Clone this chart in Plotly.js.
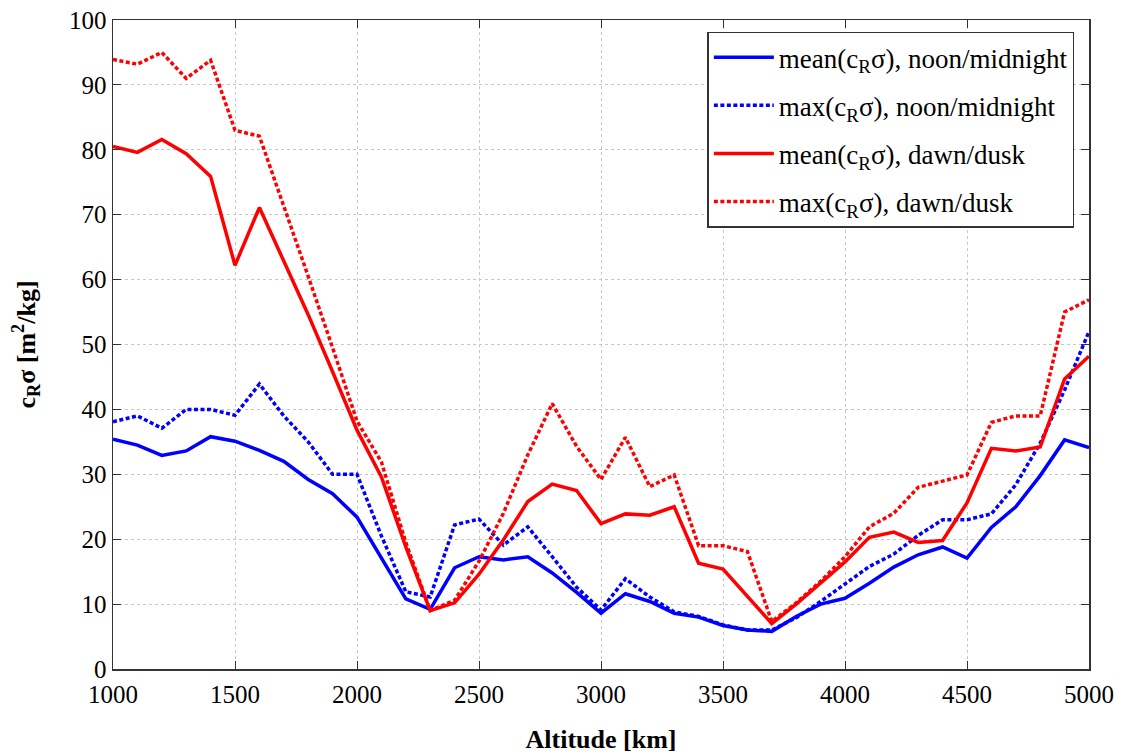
<!DOCTYPE html>
<html>
<head>
<meta charset="utf-8">
<script src="https://cdn.plot.ly/plotly-3.0.1.min.js"></script>
<style>html,body{margin:0;padding:0;background:#fff;}#chart{width:1121px;height:755px;}</style>
</head>
<body>
<div id="chart"></div>
<script>
const altitude = [1000,1100,1200,1300,1400,1500,1600,1700,1800,1900,2000,2100,2200,2300,2400,2500,2600,2700,2800,2900,3000,3100,3200,3300,3400,3500,3600,3700,3800,3900,4000,4100,4200,4300,4400,4500,4600,4700,4800,4900,5000];
const meanNoon = [35.4,34.5,32.9,33.6,35.8,35.1,33.7,32.0,29.2,27.0,23.4,17.1,10.8,9.2,15.6,17.3,16.8,17.3,14.8,11.8,8.6,11.6,10.4,8.6,8.0,6.7,6.0,5.8,8.1,10.0,10.9,13.2,15.7,17.6,18.8,17.1,21.8,25.0,29.8,35.3,34.1];
const maxNoon = [38.1,39.0,37.1,40.0,40.0,39.1,43.9,39.0,35.0,30.0,30.0,20.5,11.9,11.1,22.2,23.1,19.1,21.9,17.3,12.6,9.1,13.9,11.1,8.8,8.1,6.8,6.0,6.0,7.9,10.4,13.1,15.8,17.7,20.6,23.0,23.0,23.9,28.4,34.8,43.0,52.0];
const meanDawn = [80.5,79.6,81.6,79.4,75.9,62.2,71.1,62.8,54.6,45.8,36.8,29.6,18.8,9.0,10.2,14.6,19.9,25.8,28.5,27.5,22.4,23.9,23.7,25.0,16.3,15.4,11.1,7.0,10.0,13.3,16.5,20.3,21.1,19.5,19.8,25.6,34.0,33.6,34.2,44.7,48.2];
const maxDawn = [93.9,93.2,95.0,91.0,93.8,83.0,82.1,71.5,60.5,49.5,38.2,31.9,19.5,9.0,10.6,16.6,24.0,33.0,40.9,34.3,29.2,35.7,28.1,29.9,19.0,19.0,18.1,7.3,10.2,13.5,17.3,21.9,24.0,28.0,29.0,29.9,38.0,39.0,39.0,55.0,56.9];
const seriesNames = ["mean(c<sub>R</sub>σ), noon/midnight","max(c<sub>R</sub>σ), noon/midnight","mean(c<sub>R</sub>σ), dawn/dusk","max(c<sub>R</sub>σ), dawn/dusk"];
const xTicks = [1000,1500,2000,2500,3000,3500,4000,4500,5000];
const yTicks = [0,10,20,30,40,50,60,70,80,90,100];

const font = "'Liberation Serif', 'Times New Roman', serif";
function tr(y, name, color, dash, g){
  return {x: altitude, y: y, name: name, type: 'scatter', mode: 'lines', legendgroup: g,
    line: {color: color, width: 3.5, dash: dash}};
}
const data = [
  tr(meanNoon, seriesNames[0], '#0000ff', 'solid', 'a'),
  tr(maxNoon, seriesNames[1], '#0000ff', '4px,2.5px', 'b'),
  tr(meanDawn, seriesNames[2], '#ff0000', 'solid', 'c'),
  tr(maxDawn, seriesNames[3], '#ff0000', '4px,2.5px', 'd')
];
const axisCommon = {
  showline: true, linecolor: '#333', linewidth: 1.5, mirror: 'allticks',
  ticks: 'inside', ticklen: 8, tickcolor: '#333', tickwidth: 1,
  showgrid: true, gridcolor: '#c8c8c8', gridwidth: 1, griddash: 'dot',
  zeroline: false, tickfont: {family: font, size: 25, color: '#000'}
};
const layout = {
  width: 1121, height: 755,
  margin: {l: 113, r: 32, t: 20, b: 86},
  paper_bgcolor: '#fff', plot_bgcolor: '#fff',
  font: {family: font, color: '#000'},
  xaxis: Object.assign({}, axisCommon, {
    range: [1000, 5000], tickvals: xTicks, ticktext: xTicks.map(String),
    ticklabelstandoff: 2,
    title: {text: '<b>Altitude [km]</b>', font: {family: font, size: 26}, standoff: 23}
  }),
  yaxis: Object.assign({}, axisCommon, {
    range: [0, 100], tickvals: yTicks, ticktext: yTicks.map(String),
    title: {text: '<b>c<sub>R</sub>σ [m<sup>2</sup>/kg]</b>', font: {family: font, size: 26}, standoff: 26}
  }),
  legend: {
    x: 0.985, y: 0.982, xanchor: 'right', yanchor: 'top',
    bgcolor: '#fff', bordercolor: '#333', borderwidth: 1.5,
    font: {family: font, size: 27, color: '#000'},
    tracegroupgap: 10, itemwidth: 60
  },
  showlegend: true
};
Plotly.newPlot('chart', data, layout, {displayModeBar: false, staticPlot: true});
</script>
</body>
</html>
